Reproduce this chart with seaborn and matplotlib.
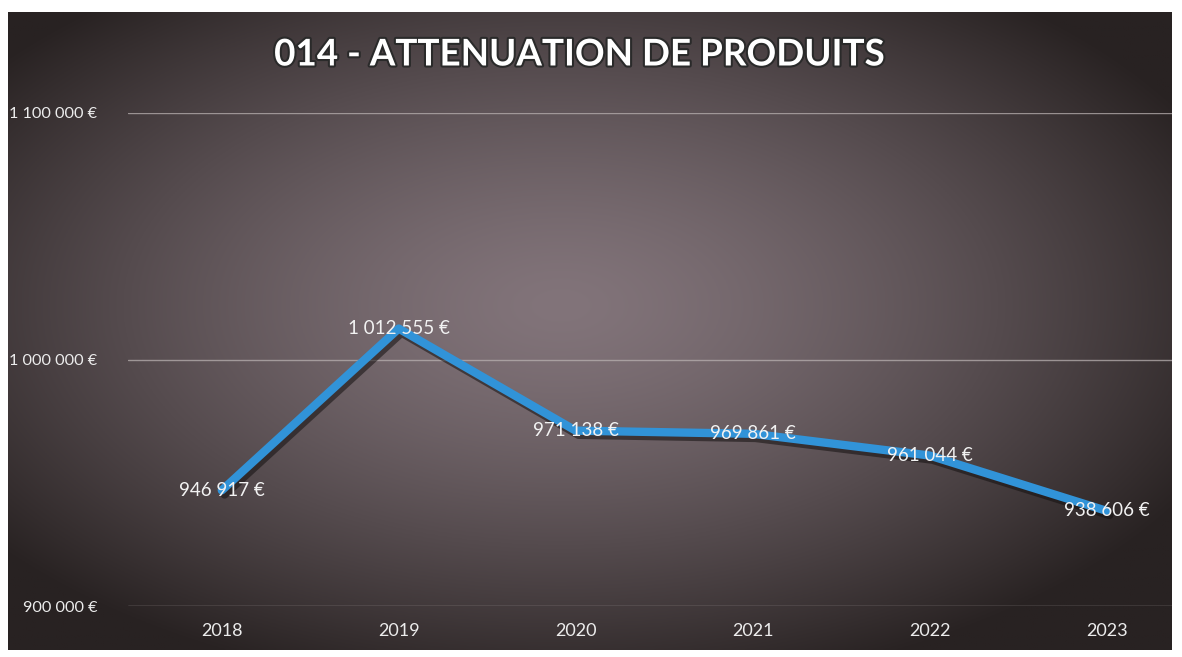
import numpy as np
import pandas as pd
import matplotlib
matplotlib.use("Agg")
import matplotlib.pyplot as plt
import matplotlib.patheffects as pe
from matplotlib.ticker import FuncFormatter
import seaborn as sns

# Chart data
years = [2018, 2019, 2020, 2021, 2022, 2023]
amounts = [946917, 1012555, 971138, 969861, 961044, 938606]
title = "014 - ATTENUATION DE PRODUITS"
y_ticks = [900000, 1000000, 1100000]


def euro(v, pos=None):
    return f"{int(v):,}".replace(",", " ") + " €"


sns.set_theme(style="dark")
plt.rcParams["font.family"] = ["Lato", "DejaVu Sans"]

df = pd.DataFrame({"year": years, "amount": amounts})

W, H = 1182, 657
fig = plt.figure(figsize=(W / 100, H / 100), dpi=100, facecolor="white")

# dark frame with radial gradient
bg = fig.add_axes([8 / W, 7 / H, 1164 / W, 638 / H])
gx, gy = np.meshgrid(np.linspace(-1, 1, 600), np.linspace(-1, 1, 330))
r = np.sqrt(((gx + 0.05) / 0.95) ** 2 + ((gy + 0.08) / 0.95) ** 2)
t = np.clip(r, 0, 1.3) / 1.3
center = np.array([130, 116, 122]) / 255
edge = np.array([40, 34, 34]) / 255
img = center[None, None, :] * (1 - t[..., None] ** 1.4) + edge[None, None, :] * t[..., None] ** 1.4
bg.imshow(img, aspect="auto", extent=[0, 1, 0, 1])
bg.set_axis_off()

ax = fig.add_axes([128 / W, (H - 606) / H, (1172 - 128) / W, (606 - 113) / H])
ax.patch.set_alpha(0)

sns.lineplot(data=df, x="year", y="amount", ax=ax, color="#3193d8", linewidth=6,
             solid_joinstyle="round", solid_capstyle="round",
             path_effects=[pe.SimpleLineShadow(offset=(2, -3), alpha=0.55, shadow_color="#141010"),
                           pe.Normal()])

for x, y in zip(years, amounts):
    ax.text(x, y, euro(y), ha="center", va="center", color="#f2f2f2", fontsize=13.5)

ax.set_xlim(2017.47, 2023.37)
ax.set_ylim(900000, 1100000)
ax.set_yticks(y_ticks)
ax.set_xticks(years)
ax.yaxis.set_major_formatter(FuncFormatter(euro))
ax.set_xlabel("")
ax.set_ylabel("")
ax.grid(axis="y", color="#b8b0b0", linewidth=1.0, alpha=0.75)
ax.grid(axis="x", visible=False)
for s in ax.spines.values():
    s.set_visible(False)
ax.tick_params(axis="y", colors="#ececec", labelsize=11.7, pad=22, length=0)
ax.tick_params(axis="x", colors="#ececec", labelsize=13, pad=12, length=0)

fig.text(579 / W, 1 - 55 / H, title, ha="center", va="center", color="white",
         fontsize=26.5, fontweight="bold",
         path_effects=[pe.withStroke(linewidth=3, foreground="#2a2a2a")])

fig.savefig("out.png", dpi=100, facecolor="white")
